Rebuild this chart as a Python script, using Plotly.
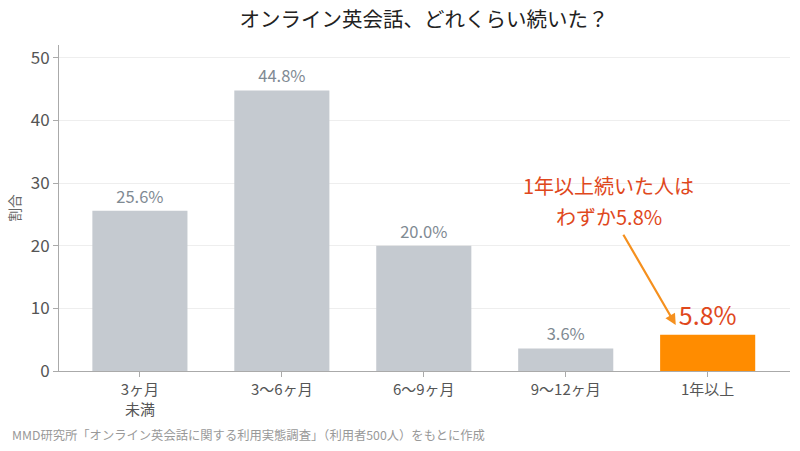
import plotly.graph_objects as go

categories = ["3ヶ月<br>未満", "3〜6ヶ月", "6〜9ヶ月", "9〜12ヶ月", "1年以上"]
values = [25.6, 44.8, 20.0, 3.6, 5.8]
labels = ["25.6%", "44.8%", "20.0%", "3.6%", "5.8%"]
highlight = [False, False, False, False, True]
callout_lines = ["1年以上続いた人は", "わずか5.8%"]

gray = "#C5CAD0"
orange = "#FF8C00"
red = "#E0481C"
font_jp = "Noto Sans CJK JP, Noto Sans, sans-serif"

bar_colors = [orange if h else gray for h in highlight]
text_colors = [red if h else "#7F8A93" for h in highlight]
text_sizes = [25 if h else 16.5 for h in highlight]

fig = go.Figure(go.Bar(
    x=list(range(len(categories))), y=values,
    marker=dict(color=bar_colors, line=dict(width=0)),
    width=0.67,
    text=labels, textposition="outside",
    textfont=dict(color=text_colors, size=text_sizes, family=font_jp),
    cliponaxis=False,
))

fig.update_layout(
    width=800, height=451,
    margin=dict(l=59, r=10, t=45, b=80, autoexpand=False),
    paper_bgcolor="white", plot_bgcolor="white",
    font=dict(family=font_jp, color="#555"),
    title=dict(text="オンライン英会話、どれくらい続いた？", x=0.53, xanchor="center",
               y=0.955, yanchor="middle", automargin=False,
               font=dict(size=20.5, color="#222")),
    showlegend=False,
    xaxis=dict(tickmode="array", tickvals=list(range(len(categories))), ticktext=categories,
               range=[-0.57, 4.58], showline=True, linecolor="#AAAAAA", linewidth=1,
               ticks="outside", tickcolor="#AAAAAA", ticklen=5, automargin=False,
               tickfont=dict(size=15, color="#555"), showgrid=False, zeroline=False),
    yaxis=dict(range=[0, 52.05], tickvals=[0, 10, 20, 30, 40, 50], showline=True,
               linecolor="#AAAAAA", linewidth=1, ticks="outside", tickcolor="#AAAAAA", ticklen=5,
               gridcolor="#EEEEEE", zeroline=False, tickfont=dict(size=17, color="#555"),
               automargin=False,
               title=dict(text="割合", font=dict(size=13.5, color="#666"), standoff=6)),
)

fig.add_annotation(x=3.775, y=7.35, ax=3.40, ay=22.0, xref="x", yref="y", axref="x", ayref="y",
                   text="", showarrow=True, arrowhead=2, arrowsize=1, arrowwidth=2.2,
                   arrowcolor="#F5901E")
for line, anchor in zip(callout_lines, ["bottom", "top"]):
    fig.add_annotation(x=3.303, y=27.08, xref="x", yref="y", showarrow=False, text=line,
                       yanchor=anchor, borderpad=0,
                       font=dict(size=20, color=red, family=font_jp), align="center")
fig.add_annotation(x=0, y=0, xref="paper", yref="paper", xshift=-49, yshift=-64,
                   showarrow=False,
                   text="MMD研究所「オンライン英会話に関する利用実態調査」（利用者500人）をもとに作成",
                   font=dict(size=12.3, color="#999"), xanchor="left", yanchor="middle")

fig.write_html("out.html", config={"displayModeBar": False},
               post_script="document.body.style.margin='0';")
